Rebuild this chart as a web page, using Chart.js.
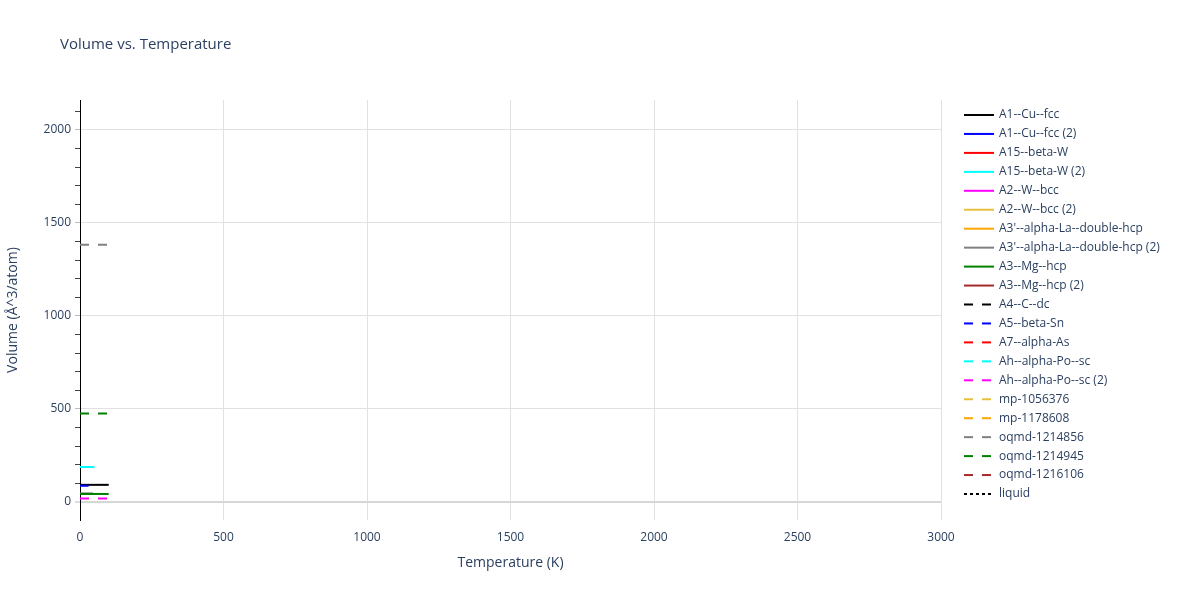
<!DOCTYPE html>
<html>
<head>
<meta charset="utf-8">
<script src="https://cdn.jsdelivr.net/npm/chart.js@4/dist/chart.umd.min.js"></script>
<style>
html,body{margin:0;padding:0;background:#fff;}
#wrap{width:1200px;height:600px;position:relative;}
</style>
</head>
<body>
<div id="wrap"><canvas id="c" width="1200" height="600"></canvas></div>
<script>
// ---- data ----
const seriesNames = [
  "A1--Cu--fcc", "A1--Cu--fcc (2)", "A15--beta-W", "A15--beta-W (2)", "A2--W--bcc",
  "A2--W--bcc (2)", "A3'--alpha-La--double-hcp", "A3'--alpha-La--double-hcp (2)",
  "A3--Mg--hcp", "A3--Mg--hcp (2)", "A4--C--dc", "A5--beta-Sn", "A7--alpha-As",
  "Ah--alpha-Po--sc", "Ah--alpha-Po--sc (2)", "mp-1056376", "mp-1178608",
  "oqmd-1214856", "oqmd-1214945", "oqmd-1216106", "liquid"
];
const seriesColors = [
  "#000000", "#0000ff", "#ff0000", "#00ffff", "#ff00ff",
  "#e8c040", "#ffa500", "#808080", "#008000", "#a52a2a",
  "#000000", "#0000ff", "#ff0000", "#00ffff", "#ff00ff",
  "#e8c040", "#ffa500", "#808080", "#008000", "#a52a2a", "#000000"
];
const seriesDash = [
  "solid","solid","solid","solid","solid","solid","solid","solid","solid","solid",
  "dash","dash","dash","dash","dash","dash","dash","dash","dash","dash","dot"
];
// temperatures (K) and volumes (Å^3/atom) per series
const temps = [
  [0, 100], [0, 30], [], [0, 50], [],
  [], [], [0, 45], [0, 100], [],
  [], [], [], [], [0, 100],
  [], [], [0, 100], [0, 100], [], []
];
const volumes = [
  [92, 92], [87, 87], [], [188, 188], [],
  [], [], [46, 46], [43, 43], [],
  [], [], [], [], [18, 18],
  [], [], [1383, 1383], [476, 476], [], []
];
const xTicks = [0, 500, 1000, 1500, 2000, 2500, 3000];
const yTicks = [0, 500, 1000, 1500, 2000];

const FONT = "'Open Sans', verdana, arial, sans-serif";
const TXT = "#2a3f5f";
const dashMap = {solid: [], dash: [9, 9], dot: [3, 3]};

const N = seriesNames.length;
const datasets = seriesNames.map((name, i) => ({
  label: name,
  data: temps[i].map((t, k) => ({x: t, y: volumes[i][k]})),
  borderColor: seriesColors[i],
  backgroundColor: seriesColors[i],
  borderWidth: 2,
  borderDash: dashMap[seriesDash[i]],
  pointRadius: 0,
  showLine: true,
  fill: false,
  order: N - i
}));

const legendPlugin = {
  id: 'plotlyLegend',
  afterDraw(chart) {
    const ctx = chart.ctx;
    ctx.save();
    const x0 = chart.chartArea.right + 23;
    chart.data.datasets.forEach((ds, i) => {
      const y = 115 + i * 18.95;
      ctx.beginPath();
      ctx.setLineDash(ds.borderDash || []);
      ctx.strokeStyle = ds.borderColor;
      ctx.lineWidth = 2;
      ctx.moveTo(x0, y);
      ctx.lineTo(x0 + 30, y);
      ctx.stroke();
      ctx.setLineDash([]);
      ctx.fillStyle = TXT;
      ctx.font = "12px " + FONT;
      ctx.textBaseline = 'middle';
      ctx.textAlign = 'left';
      ctx.fillText(ds.label, x0 + 35, y);
    });
    // title
    ctx.font = "15px " + FONT;
    ctx.fillStyle = TXT;
    ctx.textBaseline = 'middle';
    ctx.fillText("Volume vs. Temperature", 60, 45);
    ctx.restore();
  }
};

new Chart(document.getElementById('c'), {
  type: 'scatter',
  data: {datasets},
  plugins: [legendPlugin],
  options: {
    responsive: false,
    animation: false,
    layout: {padding: {top: 100, right: 259, left: 0, bottom: 0}},
    plugins: {legend: {display: false}, title: {display: false}, tooltip: {enabled: false}},
    scales: {
      x: {
        type: 'linear',
        min: 0, max: 3000,
        afterBuildTicks: s => { s.ticks = xTicks.map(v => ({value: v})); },
        afterFit: s => { s.height = 80; },
        border: {display: false},
        grid: {color: '#e1e1e1', lineWidth: 1, drawTicks: false},
        ticks: {color: TXT, font: {family: FONT, size: 12}, padding: 10, maxRotation: 0,
                callback: v => String(v)},
        title: {display: true, text: 'Temperature (K)', color: TXT, font: {family: FONT, size: 14}, padding: {top: 0, bottom: 29}}
      },
      y: {
        type: 'linear',
        min: -97, max: 2161,
        afterBuildTicks: s => {
          const t = [];
          for (let v = 0; v <= 2100; v += 100) t.push({value: v});
          s.ticks = t;
        },
        afterFit: s => { s.width = 80; },
        border: {display: true, color: '#000000', width: 1},
        grid: {
          color: c => (c.tick && c.tick.value === 0) ? '#d6d6d6' : (c.tick && c.tick.value % 500 === 0 ? '#e1e1e1' : 'rgba(0,0,0,0)'),
          lineWidth: c => (c.tick && c.tick.value === 0) ? 2 : 1,
          drawTicks: true,
          tickLength: 5,
          tickColor: c => (c.tick && c.tick.value % 500 === 0) ? '#bbbbbb' : '#444444',
          tickWidth: 1
        },
        ticks: {
          color: TXT, font: {family: FONT, size: 12}, padding: 4,
          autoSkip: false,
          callback: v => (yTicks.includes(v) ? String(v) : '')
        },
        title: {display: true, text: 'Volume (Å^3/atom)', color: TXT, font: {family: FONT, size: 14}, padding: {top: 5, bottom: 0}}
      }
    }
  }
});
</script>
</body>
</html>
